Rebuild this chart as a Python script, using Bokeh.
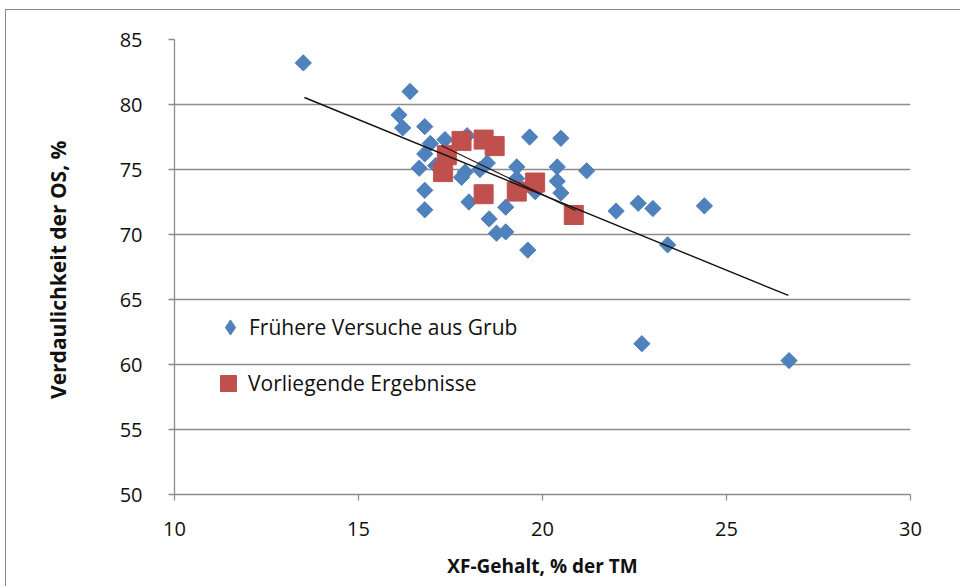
import math
from bokeh.plotting import figure
from bokeh.models import FixedTicker, Legend, LegendItem
from bokeh.embed import file_html
from bokeh.resources import INLINE

# Frühere Versuche aus Grub (blue diamonds)
blue_x = [13.5, 16.4, 16.1, 16.2, 16.8, 16.95, 17.35, 16.8, 16.65, 17.1,
          16.8, 16.8, 17.95, 17.9, 17.8, 18.0, 18.55, 18.75, 19.0, 19.0,
          19.65, 20.5, 19.3, 20.4, 20.4, 20.5, 21.2, 19.6, 22.0, 22.6,
          23.0, 24.4, 23.4, 22.7, 26.7, 18.5, 19.3, 19.8, 18.3]
blue_y = [83.2, 81.0, 79.2, 78.2, 78.3, 77.0, 77.3, 76.2, 75.1, 75.3,
          73.4, 71.9, 77.6, 74.8, 74.4, 72.5, 71.2, 70.1, 70.2, 72.1,
          77.5, 77.4, 75.2, 75.2, 74.1, 73.2, 74.9, 68.8, 71.8, 72.4,
          72.0, 72.2, 69.2, 61.6, 60.3, 75.5, 74.3, 73.3, 75.0]

# Vorliegende Ergebnisse (red squares)
red_x = [17.3, 17.4, 17.8, 18.4, 18.7, 18.4, 19.3, 19.8, 20.85]
red_y = [74.8, 76.1, 77.2, 77.3, 76.8, 73.1, 73.3, 74.0, 71.5]

# trend lines (end points)
trend_x = [13.53, 26.68]
trend_y = [80.54, 65.31]
trend2_x = [17.25, 20.9]
trend2_y = [76.85, 71.85]

x_ticks = [10, 15, 20, 25, 30]
y_ticks = [50, 55, 60, 65, 70, 75, 80, 85]

FONT = "Open Sans"
GRID = "#8c8c8c"
BLUE = "#4F81BD"
RED = "#C0504D"
TXT = "#111111"

p = figure(width=960, height=586, x_range=(10, 30), y_range=(50, 85),
           output_backend="svg", toolbar_location=None,
           min_border_left=174, min_border_right=50,
           min_border_top=39, min_border_bottom=92)
p.border_fill_color = None
p.outline_line_color = None
p.styles = {"box-shadow": "inset 5px 0 0 0 white, inset 0 9px 0 0 white, "
                          "inset 6px 0 0 0 #8a8a8a, inset 0 10px 0 0 #8a8a8a"}

p.xgrid.grid_line_color = None
p.ygrid.ticker = FixedTicker(ticks=y_ticks)
p.ygrid.grid_line_color = GRID
p.ygrid.grid_line_width = 1.3

for ax, ticks in ((p.xaxis[0], x_ticks), (p.yaxis[0], y_ticks)):
    ax.ticker = FixedTicker(ticks=ticks)
    ax.axis_line_color = GRID
    ax.axis_line_width = 1.3
    ax.major_tick_line_color = GRID
    ax.major_tick_line_width = 1.3
    ax.major_tick_out = 6
    ax.major_tick_in = 0
    ax.minor_tick_line_color = None
    ax.major_label_text_font = FONT
    ax.major_label_text_font_size = "20px"
    ax.major_label_text_color = TXT
    ax.axis_label_text_font = FONT
    ax.axis_label_text_font_style = "bold"
    ax.axis_label_text_color = TXT

p.xaxis.axis_label = "XF-Gehalt, % der TM"
p.yaxis.axis_label = "Verdaulichkeit  der OS, %"
p.xaxis.axis_label_text_font_size = "19px"
p.yaxis.axis_label_text_font_size = "21px"
p.xaxis.major_label_standoff = 21
p.yaxis.major_label_standoff = 26
p.xaxis.axis_label_standoff = 14
p.yaxis.axis_label_standoff = 45

# narrow diamonds underneath the rotated squares: used as the legend symbol
r_blue_leg = p.scatter(blue_x, blue_y, marker="diamond", size=14,
                       fill_color=BLUE, line_color=BLUE)
r_blue = p.scatter(blue_x, blue_y, marker="square", angle=math.pi / 4,
                   size=11.5, fill_color=BLUE, line_color=BLUE)
r_red = p.scatter(red_x, red_y, marker="square", size=19,
                  fill_color=RED, line_color=RED)
p.line(trend_x, trend_y, line_color=TXT, line_width=1.4)
p.line(trend2_x, trend2_y, line_color="#2a1515", line_width=1.2)


def make_legend(label, rend, loc, glyph):
    lg = Legend(items=[LegendItem(label=label, renderers=[rend])], location=loc)
    lg.glyph_width = glyph
    lg.glyph_height = glyph
    lg.label_height = glyph
    lg.padding = 0
    lg.margin = 0
    lg.label_standoff = 0
    lg.label_text_font = FONT
    lg.label_text_font_size = "21px"
    lg.label_text_color = TXT
    lg.background_fill_alpha = 0
    lg.border_line_color = None
    return lg


p.add_layout(make_legend("Frühere Versuche aus Grub", r_blue_leg, (37, 148), 38))
p.add_layout(make_legend("Vorliegende Ergebnisse", r_red, (34, 91), 40))

open("out.html", "w").write(file_html(p, INLINE))
